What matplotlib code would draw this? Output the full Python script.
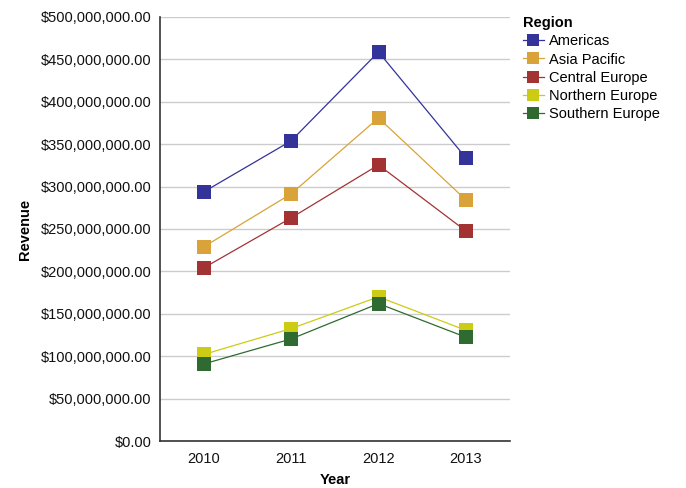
import matplotlib
matplotlib.use("Agg")
import matplotlib.pyplot as plt
from matplotlib.ticker import FuncFormatter, MultipleLocator

plt.rcParams['font.family'] = ['Liberation Sans', 'DejaVu Sans']

years = ["2010", "2011", "2012", "2013"]
regions = ["Americas", "Asia Pacific", "Central Europe", "Northern Europe", "Southern Europe"]
americas = [293.6e6, 353.8e6, 458.7e6, 333.7e6]
asia_pacific = [228.8e6, 291.3e6, 380.9e6, 284.2e6]
central_europe = [204.0e6, 263.0e6, 325.5e6, 247.6e6]
northern_europe = [102.0e6, 132.5e6, 170.0e6, 130.5e6]
southern_europe = [90.8e6, 120.3e6, 162.0e6, 122.4e6]
series = [americas, asia_pacific, central_europe, northern_europe, southern_europe]
colors = ["#333399", "#D9A33A", "#A33333", "#CCCC14", "#2F6B30"]

fig = plt.figure(figsize=(6.86, 4.88), dpi=100)
ax = fig.add_axes([0.233, 0.0963, 0.510, 0.869])

x = list(range(len(years)))
for name, vals, c in zip(regions, series, colors):
    ax.plot(x, vals, color=c, lw=0.9, marker='s', markersize=9.5,
            markeredgewidth=0, label=name, zorder=3)

ax.set_xlim(-0.5, 3.5)
ax.set_ylim(0, 500e6)
ax.set_xticks(x)
ax.set_xticklabels(years)
ax.yaxis.set_major_locator(MultipleLocator(50e6))
ax.yaxis.set_major_formatter(FuncFormatter(lambda v, p: "${:,.2f}".format(v)))
ax.tick_params(axis='both', length=0, labelsize=10.5, colors='#111111', pad=6)
ax.tick_params(axis='x', pad=8)
ax.grid(axis='y', color='#cccccc', lw=1.0, zorder=0)
ax.set_axisbelow(True)
for s in ['top', 'right']:
    ax.spines[s].set_visible(False)
for s in ['left', 'bottom']:
    ax.spines[s].set_color('#333333')
    ax.spines[s].set_linewidth(1.2)

ax.set_xlabel("Year", fontsize=10.5, fontweight='bold', labelpad=5)
ax.set_ylabel("Revenue", fontsize=10.5, fontweight='bold', labelpad=6)

leg = ax.legend(title="Region", loc='upper left', bbox_to_anchor=(1.02, 1.015),
                frameon=False, fontsize=10.5, title_fontsize=10.5,
                handlelength=1.5, handletextpad=0.3, labelspacing=0.28,
                borderaxespad=0, alignment='left', markerscale=0.85)
leg.get_title().set_fontweight('bold')

fig.savefig("out.png", dpi=100)
